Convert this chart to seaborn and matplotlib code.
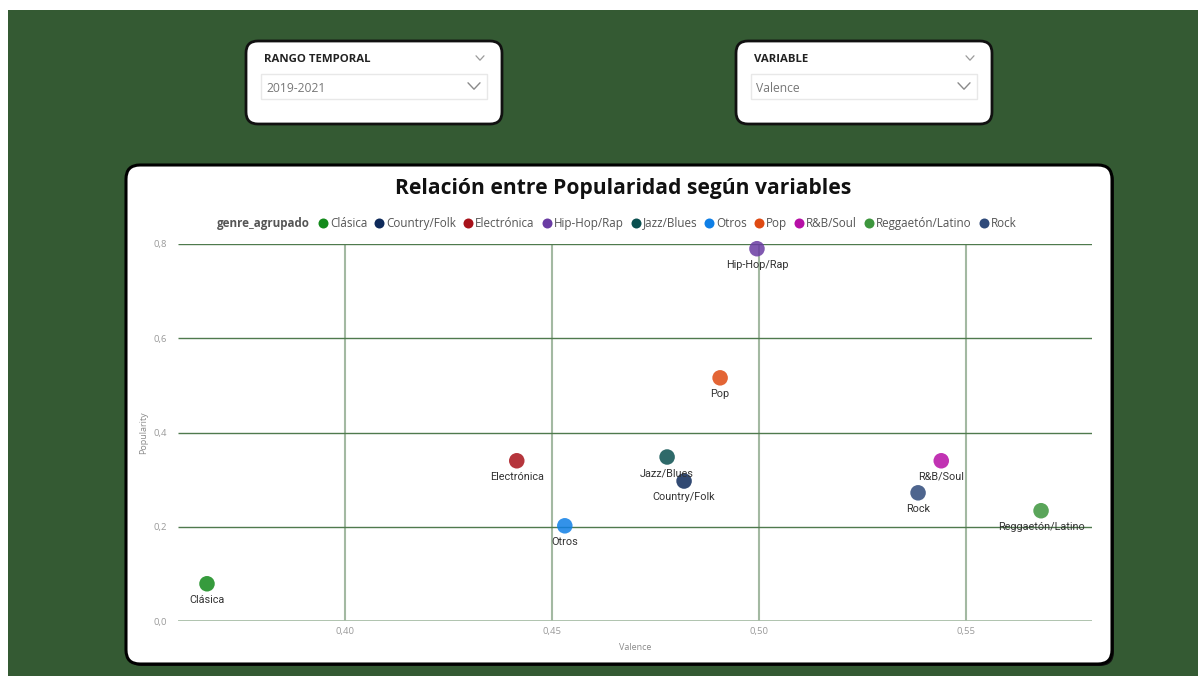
import matplotlib
matplotlib.use("Agg")
import matplotlib.pyplot as plt
from matplotlib.patches import FancyBboxPatch, Rectangle
from matplotlib.lines import Line2D
from matplotlib.transforms import IdentityTransform
import pandas as pd
import seaborn as sns

# ---- data -------------------------------------------------------------
genres = ["Clásica", "Country/Folk", "Electrónica", "Hip-Hop/Rap", "Jazz/Blues",
          "Otros", "Pop", "R&B/Soul", "Reggaetón/Latino", "Rock"]
valence = [0.3667, 0.4819, 0.4415, 0.4995, 0.4778,
           0.4531, 0.4906, 0.5440, 0.5681, 0.5384]
popularity = [0.079, 0.297, 0.340, 0.790, 0.348,
              0.202, 0.516, 0.340, 0.234, 0.272]
genre_colors = ["#138a1b", "#0e2a5a", "#a8121a", "#6a3ca3", "#0a5050",
                "#0f7fe6", "#df4a12", "#b60fa6", "#3d963d", "#2f4a7a"]
x_ticks = [0.40, 0.45, 0.50, 0.55]
x_tick_labels = ["0,40", "0,45", "0,50", "0,55"]
y_ticks = [0.0, 0.2, 0.4, 0.6, 0.8]
y_tick_labels = ["0,0", "0,2", "0,4", "0,6", "0,8"]

df = pd.DataFrame({"genre_agrupado": genres, "Valence": valence, "Popularity": popularity})
palette = dict(zip(genres, genre_colors))

# ---- canvas -----------------------------------------------------------
W, H = 1198, 676
sns.set_theme(style="white")
plt.rcParams["font.family"] = ["Open Sans", "DejaVu Sans"]

fig = plt.figure(figsize=(W / 100, H / 100), dpi=100, facecolor="white")
PX = IdentityTransform()


def rbox(x0, y0, x1, y1, radius, **kw):
    """Rounded box given in top-left pixel coordinates."""
    p = FancyBboxPatch((x0, H - y1), x1 - x0, y1 - y0,
                       boxstyle=f"round,pad=0,rounding_size={radius}",
                       transform=PX, **kw)
    fig.add_artist(p)
    return p


def ftext(x, y, s, **kw):
    return fig.text(x / W, 1 - y / H, s, **kw)


def chevron(cx, cy, half_w, half_h, color, lw):
    fig.add_artist(Line2D([cx - half_w, cx, cx + half_w],
                          [H - cy + half_h, H - cy - half_h, H - cy + half_h],
                          transform=PX, color=color, lw=lw))


# page background
fig.add_artist(Rectangle((8, 0), W - 8, H - 10, transform=PX,
                         facecolor="#345a33", edgecolor="none", zorder=0))

# filter cards
for x0, title, value in [(246, "RANGO TEMPORAL", "2019-2021"), (736, "VARIABLE", "Valence")]:
    rbox(x0, 41, x0 + 256, 124, 12, facecolor="white", edgecolor="#111111", lw=2.0, zorder=1)
    ftext(x0 + 18, 59, title, fontsize=8.2, fontweight="bold", color="#222222",
          va="center", ha="left", zorder=2)
    chevron(x0 + 234, 58, 4, 2.2, "#9a9a9a", 0.9)
    fig.add_artist(Rectangle((x0 + 15, H - 99), 226, 25, transform=PX,
                             facecolor="white", edgecolor="#e8e8e8", lw=1.0, zorder=2))
    ftext(x0 + 20, 88, value, fontsize=8.7, color="#777777", va="center", ha="left", zorder=3)
    chevron(x0 + 228, 86, 6, 3.2, "#8a8a8a", 1.0)

# chart card
rbox(128, 167, 1114, 666, 14, facecolor="#111111", edgecolor="none", zorder=1)
rbox(126, 165, 1112, 664, 14, facecolor="white", edgecolor="#000000", lw=2.2, zorder=1)

ftext(623, 189, "Relación entre Popularidad según variables", fontsize=15.1,
      fontweight="bold", color="#111111", ha="center", va="center", zorder=3)

# ---- scatter ----------------------------------------------------------
ax = fig.add_axes([178 / W, (H - 621) / H, (1092 - 178) / W, (621 - 244) / H], zorder=2)
ax.patch.set_alpha(0)

# grid: light vertical lines, darker horizontal ones, pale baseline
ax.set_xlim(0.3597, 0.5804)
ax.set_ylim(0.0, 0.8)
ax.vlines(x_ticks, 0.0, 0.8, colors="#a3b9a2", lw=1.5, zorder=1)
ax.hlines(y_ticks[1:], 0.3597, 0.5804, colors="#4f7a4d", lw=1.0, zorder=1)
ax.axhline(y_ticks[0], color="#a8bda7", lw=2.0, zorder=1)

sns.scatterplot(data=df, x="Valence", y="Popularity", hue="genre_agrupado",
                palette=palette, s=125, alpha=0.85, edgecolor="none",
                legend=False, ax=ax, clip_on=False, zorder=3)

for g, xv, yv in zip(genres, valence, popularity):
    ax.annotate(g, (xv, yv), xytext=(0, -16), textcoords="offset pixels",
                ha="center", va="center", fontsize=7.8, color="#333333",
                family=["Roboto", "DejaVu Sans"], zorder=4, annotation_clip=False)

ax.set_xlim(0.3597, 0.5804)
ax.set_ylim(0.0, 0.8)
ax.set_xticks(x_ticks)
ax.set_xticklabels(x_tick_labels)
ax.set_yticks(y_ticks)
ax.set_yticklabels(y_tick_labels)
ax.tick_params(axis="both", length=0, labelsize=6.8, labelcolor="#9a9a9a")
ax.tick_params(axis="y", pad=8)
ax.tick_params(axis="x", pad=4)
ax.grid(False)
for s in ax.spines.values():
    s.set_visible(False)

ax.set_xlabel("Valence", fontsize=6.5, color="#8a8a8a", labelpad=5)
ax.set_ylabel("Popularity", fontsize=6.5, color="#8a8a8a", labelpad=4)

# ---- legend row -------------------------------------------------------
renderer = fig.canvas.get_renderer()
leg_y = 223
head = ftext(217, leg_y, "genre_agrupado", fontsize=8.4, fontweight="bold",
             color="#555555", ha="left", va="center", zorder=3)
cursor = head.get_window_extent(renderer).x1 + 8
for g, c in zip(genres, genre_colors):
    fig.add_artist(Line2D([cursor + 5], [H - leg_y], transform=PX, marker="o",
                          markersize=7.2, color=c, markeredgewidth=0, zorder=3))
    t = ftext(cursor + 12, leg_y, g, fontsize=8.4, color="#555555",
              ha="left", va="center", zorder=3)
    cursor = t.get_window_extent(renderer).x1 + 7

fig.savefig("out.png", dpi=100, facecolor="white")
